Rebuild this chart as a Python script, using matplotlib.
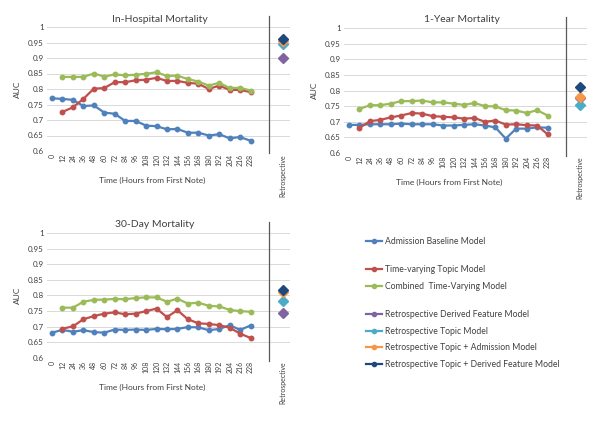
import matplotlib

matplotlib.use("Agg")
import matplotlib.pyplot as plt
from matplotlib.lines import Line2D

plt.rcParams["font.family"] = ["Lato", "DejaVu Sans"]

hours = [0, 12, 24, 36, 48, 60, 72, 84, 96, 108, 120, 132, 144, 156, 168, 180, 192, 204, 216, 228]

# In-Hospital Mortality
hosp_baseline = [0.770, 0.768, 0.765, 0.745, 0.747, 0.724, 0.720, 0.697, 0.697, 0.682,
                 0.680, 0.670, 0.671, 0.659, 0.659, 0.650, 0.654, 0.641, 0.645, 0.633]
hosp_topic = [None, 0.726, 0.741, 0.768, 0.801, 0.803, 0.822, 0.822, 0.828, 0.830,
              0.836, 0.826, 0.826, 0.820, 0.817, 0.800, 0.811, 0.797, 0.797, 0.790]
hosp_combined = [None, 0.839, 0.839, 0.839, 0.850, 0.840, 0.847, 0.844, 0.846, 0.849,
                 0.854, 0.842, 0.843, 0.832, 0.824, 0.811, 0.820, 0.803, 0.804, 0.795]
hosp_retro = [0.900, 0.945, 0.955, 0.960]

# 1-Year Mortality
year_baseline = [0.690, 0.690, 0.692, 0.692, 0.692, 0.694, 0.692, 0.692, 0.692, 0.688,
                 0.688, 0.690, 0.692, 0.688, 0.682, 0.646, 0.678, 0.678, 0.682, 0.681]
year_topic = [None, 0.680, 0.702, 0.706, 0.714, 0.720, 0.728, 0.726, 0.718, 0.716,
              0.714, 0.710, 0.712, 0.700, 0.704, 0.691, 0.692, 0.689, 0.688, 0.660]
year_combined = [None, 0.741, 0.753, 0.753, 0.758, 0.766, 0.766, 0.768, 0.762, 0.762,
                 0.758, 0.754, 0.760, 0.750, 0.749, 0.737, 0.736, 0.728, 0.737, 0.720]
year_retro = [0.775, 0.755, 0.778, 0.812]

# 30-Day Mortality
day_baseline = [0.681, 0.690, 0.684, 0.689, 0.683, 0.681, 0.691, 0.690, 0.691, 0.690,
                0.693, 0.692, 0.693, 0.699, 0.698, 0.689, 0.693, 0.705, 0.690, 0.704]
day_topic = [None, 0.694, 0.701, 0.724, 0.734, 0.742, 0.746, 0.740, 0.742, 0.750,
             0.758, 0.731, 0.753, 0.724, 0.711, 0.709, 0.705, 0.697, 0.678, 0.664]
day_combined = [None, 0.761, 0.761, 0.780, 0.786, 0.787, 0.789, 0.788, 0.792, 0.794,
                0.794, 0.780, 0.790, 0.774, 0.777, 0.767, 0.765, 0.754, 0.750, 0.748]
day_retro = [0.745, 0.783, 0.812, 0.818]

line_names = ["Admission Baseline Model", "Time-varying Topic Model", "Combined  Time-Varying Model"]
retro_names = ["Retrospective Derived Feature Model", "Retrospective Topic Model",
               "Retrospective Topic + Admission Model", "Retrospective Topic + Derived Feature Model"]
line_colors = ["#4f81bd", "#c0504d", "#9bbb59"]
retro_colors = ["#8064a2", "#4bacc6", "#f79646", "#1f497d"]

W, H = 600, 426
SPACING = 10.45
RETRO_X = 22.1
SEP_X = 20.8
XMAX = 22.8


def _to_float(vals):
    return [float("nan") if v is None else v for v in vals]


def _panel(fig, x0, top, bottom, title, title_x, series, retro):
    width = (XMAX + 0.5) * SPACING
    ax = fig.add_axes([(x0 - 0.5 * SPACING) / W, 1 - bottom / H, width / W, (bottom - top) / H])
    idx = list(range(len(hours)))
    for vals, color in zip(series, line_colors):
        ax.plot(idx, _to_float(vals), color=color, lw=1.6, marker="o", ms=3.2, zorder=3)
    for val, color in zip(retro, retro_colors):
        ax.plot([RETRO_X], [val], color=color, marker="D", ms=5.5, ls="none", zorder=4)
    ax.set_xlim(-0.5, XMAX)
    ax.set_ylim(0.6, 1.0)
    ax.set_yticks([0.6, 0.65, 0.7, 0.75, 0.8, 0.85, 0.9, 0.95, 1.0])
    ax.set_yticklabels(["0.6", "0.65", "0.7", "0.75", "0.8", "0.85", "0.9", "0.95", "1"],
                       fontsize=5.8, color="#404040")
    ax.set_xticks(idx + [RETRO_X])
    ax.set_xticklabels([str(h) for h in hours] + ["Retrospective"], rotation=90,
                       fontsize=5.0, color="#404040")
    ax.tick_params(length=0, pad=2)
    ax.grid(axis="y", color="#d9d9d9", lw=0.7)
    ax.set_axisbelow(True)
    for s in ax.spines.values():
        s.set_visible(False)
    ax.axvline(SEP_X, ymin=-0.02, ymax=1.085, color="#595959", lw=0.9, clip_on=False)
    ax.set_ylabel("AUC", fontsize=6, color="#404040", labelpad=5)
    ax.text(title_x / W, 1 - (top - 8) / H, title, transform=fig.transFigure,
            ha="center", va="center", fontsize=7.5, color="#404040")
    ax.text((x0 + 9.6 * SPACING) / W, 1 - (bottom + 29) / H, "Time (Hours from First Note)",
            transform=fig.transFigure, ha="center", va="center", fontsize=6, color="#404040")
    return ax


fig = plt.figure(figsize=(6.0, 4.26), dpi=100)
_panel(fig, 52, 27, 151, "In-Hospital Mortality", 160,
       [hosp_baseline, hosp_topic, hosp_combined], hosp_retro)
_panel(fig, 349, 28, 153, "1-Year Mortality", 462,
       [year_baseline, year_topic, year_combined], year_retro)
_panel(fig, 52, 233, 358, "30-Day Mortality", 155,
       [day_baseline, day_topic, day_combined], day_retro)

handles = [Line2D([], [], color=c, lw=1.6, marker="o", ms=3) for c in line_colors + retro_colors]
labels = line_names + retro_names
groups = [(slice(0, 1), 237), (slice(1, 3), 265), (slice(3, 7), 310)]
for sl, ytop in groups:
    fig.legend(handles[sl], labels[sl], loc="upper left", bbox_to_anchor=(366 / W, 1 - ytop / H),
               frameon=False, fontsize=6.2, handlelength=1.9, handletextpad=0.3,
               borderpad=0, borderaxespad=0, labelspacing=0.9, labelcolor="#404040")

fig.savefig("out.png", dpi=100)
